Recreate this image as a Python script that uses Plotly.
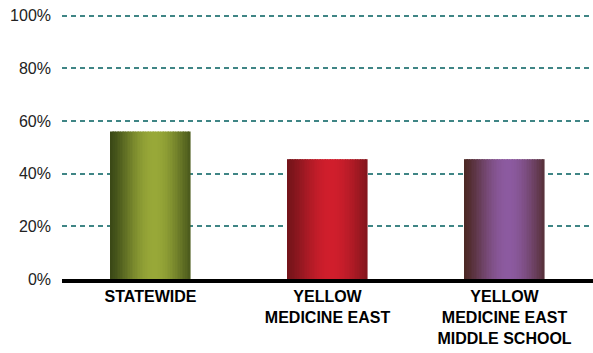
import numpy as np
import plotly.graph_objects as go

# Data
categories = ["STATEWIDE", "YELLOW<br>MEDICINE EAST", "YELLOW<br>MEDICINE EAST<br>MIDDLE SCHOOL"]
values = [56, 45.5, 45.5]
y_ticks = [0, 20, 40, 60, 80, 100]
y_tick_labels = ["0%", "20%", "40%", "60%", "80%", "100%"]

# Edge / centre colours for the cylindrical shading of each bar
edge_colors = [(58, 72, 22), (116, 20, 26), (76, 40, 36)]
center_colors = [(152, 168, 56), (208, 30, 44), (140, 90, 160)]

BAR_WIDTH = 0.45
N_STRIPES = 48
Y_MAX = 101

fig = go.Figure()
step = BAR_WIDTH / N_STRIPES
for i in range(N_STRIPES):
    t = (i + 0.5) / N_STRIPES
    # brightness peaks slightly right of centre, darkens toward both edges
    k = max(0.0, np.cos((t - 0.55) * np.pi * 0.9)) ** 1.4
    cols = []
    for e, c in zip(edge_colors, center_colors):
        rgb = [int(round(e[j] + (c[j] - e[j]) * k)) for j in range(3)]
        cols.append(f"rgb({rgb[0]},{rgb[1]},{rgb[2]})")
    fig.add_trace(go.Bar(
        x=categories,
        y=values,
        width=step * 1.15,
        offset=-BAR_WIDTH / 2 + i * step,
        marker=dict(color=cols, line=dict(width=0)),
        hoverinfo="skip",
        showlegend=False,
    ))

fig.update_layout(
    width=593,
    height=353,
    margin=dict(l=62, r=0, t=13, b=74),
    paper_bgcolor="white",
    plot_bgcolor="white",
    barmode="overlay",
    font=dict(family="Liberation Sans, Arial, sans-serif", color="#222222"),
)

fig.update_xaxes(
    type="category",
    showline=True,
    linecolor="black",
    linewidth=4,
    showgrid=False,
    ticks="",
    tickfont=dict(size=16, color="black", family="Liberation Sans, Arial, sans-serif", weight="bold"),
    automargin=False,
)

fig.update_yaxes(
    range=[0, Y_MAX],
    tickvals=y_ticks,
    ticktext=y_tick_labels,
    showgrid=True,
    gridcolor="#3f8585",
    gridwidth=1.5,
    griddash="5px,4px",
    zeroline=False,
    showline=False,
    ticks="",
    ticklabelstandoff=10,
    tickfont=dict(size=16, color="#222222"),
    automargin=False,
)

fig.write_html("out.html")
